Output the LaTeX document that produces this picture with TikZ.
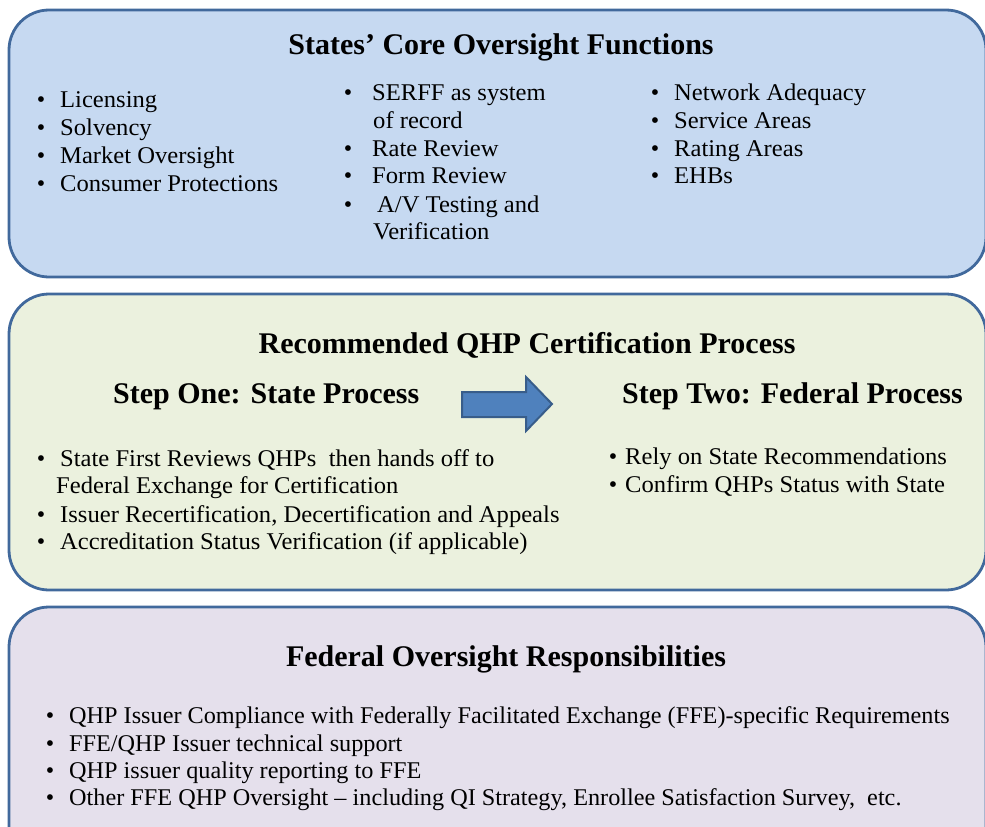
\documentclass[tikz,border=0pt]{standalone}
\usepackage{fontspec}
\setmainfont{Liberation Serif}
\newfontfamily\bodyfont{Liberation Serif}[FakeStretch=1.025]
\newfontfamily\bodyfontc{Liberation Serif}[FakeStretch=1.01]
\definecolor{boxline}{HTML}{41699C}
\definecolor{fillA}{HTML}{C6D9F1}
\definecolor{fillB}{HTML}{EBF1DE}
\definecolor{fillC}{HTML}{E5E0EC}
\definecolor{arrfill}{HTML}{4F81BD}
\definecolor{arrline}{HTML}{385D8A}
\tikzset{
  panel/.style={draw=boxline, line width=2.8pt, rounded corners=40pt},
  ttl/.style={inner sep=0pt, anchor=base, font=\fontsize{30}{34}\selectfont\bfseries},
  txt/.style={inner sep=0pt, anchor=base west, font=\bodyfont\fontsize{24}{28}\selectfont},
  txtc/.style={inner sep=0pt, anchor=base west, font=\bodyfontc\fontsize{24}{28}\selectfont},
  bul/.style={inner sep=0pt, anchor=base, font=\fontsize{24}{28}\selectfont},
}
\begin{document}
\begin{tikzpicture}[x=1pt, y=-1pt]
\useasboundingbox (0,0) rectangle (985,827);
\clip (0,0) rectangle (985,827);
% panels
\draw[panel, fill=fillA] (9,10) rectangle (986,277);
\draw[panel, fill=fillB] (9,294) rectangle (986,590);
\draw[panel, fill=fillC] (9,607) rectangle (986,880);

% Box 1
\node[ttl] (t1) at (501,54) {States’ Core Oversight Functions};
\foreach \i/\y/\s in {a/107/Licensing, b/135/Solvency, c/163/Market Oversight, d/191/Consumer Protections}{
  \node[bul] (b1\i) at (41,\y) {•};
  \node[txt] (l1\i) at (60,\y) {\s};
}
\node[bul] (b2a) at (348,100) {•};
\node[txt] (l2a) at (372,100) {SERFF as system};
\node[txt] (l2b) at (373,128) {of record};
\node[bul] (b2c) at (348,156) {•};
\node[txt] (l2c) at (372,156) {Rate Review};
\node[bul] (b2d) at (348,183) {•};
\node[txt] (l2d) at (372,183) {Form Review};
\node[bul] (b2e) at (348,212) {•};
\node[txt] (l2e) at (377,212) {A/V Testing and};
\node[txt] (l2f) at (373,239) {Verification};
\foreach \i/\y/\s in {a/100/Network Adequacy, b/128/Service Areas, c/156/Rating Areas, d/183/EHBs}{
  \node[bul] (b3\i) at (655,\y) {•};
  \node[txt] (l3\i) at (674,\y) {\s};
}

% Box 2
\node[ttl] (t2) at (527,353) {Recommended QHP Certification Process};
\node[ttl, anchor=base west] (s1) at (113,403) {Step One: State Process};
\node[ttl, anchor=base west] (s2) at (622,403) {Step Two: Federal Process};
\draw[fill=arrfill, draw=arrline, line width=2pt, line join=miter]
  (462,392) -- (526,392) -- (526,377) -- (552,404) -- (526,431) -- (526,417) -- (462,417) -- cycle;
\node[bul] (b4a) at (41,466) {•};
\node[txt] (l4a) at (60,466) {State First Reviews QHPs\ \ then hands off to};
\node[txt] (l4b) at (56,493) {Federal Exchange for Certification};
\node[bul] (b4c) at (41,522) {•};
\node[txt] (l4c) at (60,522) {Issuer Recertification, Decertification and Appeals};
\node[bul] (b4d) at (41,549) {•};
\node[txt] (l4d) at (60,549) {Accreditation Status Verification (if applicable)};
\node[bul] (b5a) at (613,464) {•};
\node[txt] (l5a) at (625,464) {Rely on State Recommendations};
\node[bul] (b5b) at (613,492) {•};
\node[txt] (l5b) at (625,492) {Confirm QHPs Status with State};

% Box 3
\node[ttl] (t3) at (506,666) {Federal Oversight Responsibilities};
\foreach \i/\y/\s in {a/723/{QHP Issuer Compliance with Federally Facilitated Exchange (FFE)-specific Requirements}, b/751/{FFE/QHP Issuer technical support}, c/778/{QHP issuer quality reporting to FFE}, d/805/{Other FFE QHP Oversight – including QI Strategy, Enrollee Satisfaction Survey,\ \ etc.}}{
  \node[bul] (b6\i) at (50,\y) {•};
  \node[txtc] (l6\i) at (69,\y) {\s};
}
\end{tikzpicture}
\end{document}
